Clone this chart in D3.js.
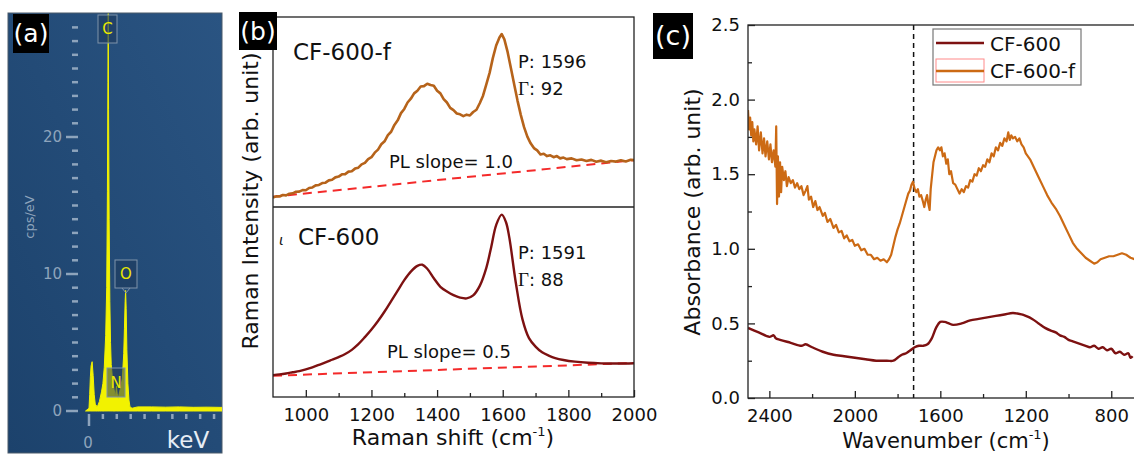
<!DOCTYPE html>
<html><head><meta charset="utf-8">
<script src="https://cdn.jsdelivr.net/npm/d3@7"></script>
<style>
html,body{margin:0;padding:0;background:#fff;}
svg{display:block;}
text{font-family:"DejaVu Sans",sans-serif;}
</style></head>
<body>
<svg id="chart" width="1134" height="454"></svg>
<script>
// ---------- DATA ----------
// (a) EDS spectrum
const edsEnergy = [-0.05,0,0.01,0.02,0.03,0.045,0.06,0.075,0.09,0.12,0.15,0.18,0.2,0.22,0.24,0.255,0.265,0.272,0.277,0.282,0.29,0.3,0.31,0.32,0.34,0.36,0.38,0.395,0.405,0.42,0.44,0.46,0.48,0.5,0.51,0.52,0.527,0.535,0.545,0.56,0.575,0.59,0.62,0.7,0.9,1.1,1.3,1.5,1.7,1.95];
const edsCps    = [0,0.2,1.2,2.5,3.3,3.6,2.6,1.2,0.5,0.3,0.7,1.4,2.0,3.2,5.5,9,16,24,29,22,14,8,5,3.4,2.2,1.6,1.0,1.8,1.3,0.9,1.4,1.8,2.4,4.2,6.0,8.0,8.8,7.5,4.5,2.0,0.8,0.3,0.2,0.3,0.3,0.28,0.3,0.27,0.28,0.26];
const edsYTicks = d3.range(0, 29, 1);
const edsYLabels = [0, 10, 20];
const edsXTicks = d3.range(0, 1.81, 0.2);
const edsPeaks = ["C", "N", "O"];

// (b) Raman spectra
const ramanShiftF = [900,910,920,930,940,950,960,970,980,990,1000,1010,1020,1030,1040,1050,1060,1070,1080,1090,1100,1110,1120,1130,1140,1150,1160,1170,1180,1190,1200,1210,1220,1230,1240,1250,1260,1270,1280,1290,1300,1310,1320,1330,1340,1350,1360,1370,1380,1390,1400,1410,1420,1430,1440,1450,1460,1470,1480,1490,1500,1510,1520,1530,1540,1550,1560,1570,1580,1590,1597,1605,1615,1625,1635,1645,1655,1665,1675,1685,1695,1705,1715,1725,1735,1745,1755,1765,1775,1785,1795,1810,1825,1840,1855,1870,1885,1900,1915,1930,1945,1960,1975,1990,2003];
const ramanIntF   = [5.0,5.6,5.5,6.3,6.1,7.0,7.2,8.0,8.1,8.9,8.8,10.0,10.3,11.4,11.6,12.6,12.8,14.0,14.3,15.6,16.0,17.2,17.3,18.6,18.8,20.2,20.7,22.4,23.2,25.2,26.2,28.6,30.2,33.0,34.6,37.8,39.6,43.2,45.6,49.4,51.6,55.0,57.0,59.8,61.2,63.4,63.6,64.9,64.2,63.8,61.2,59.8,56.8,55.0,52.2,51.0,49.2,48.8,47.8,48.6,48.2,50.0,51.2,54.6,58.6,64.5,70.6,78.5,85.0,89.2,91.0,88.2,81.5,73.0,64.5,56.0,48.5,42.0,37.0,33.5,31.0,29.8,27.6,28.0,26.8,27.2,26.2,26.8,25.6,26.0,25.2,25.6,24.6,25.0,24.2,24.8,23.8,24.4,23.6,24.2,23.9,24.6,24.0,24.9,24.6];
const ramanShift  = [900,920,940,960,980,1000,1020,1040,1060,1080,1100,1120,1140,1160,1180,1200,1220,1240,1260,1280,1300,1320,1340,1355,1370,1390,1410,1430,1450,1470,1490,1510,1530,1550,1565,1580,1597,1610,1620,1640,1660,1680,1700,1720,1740,1760,1785,1820,1860,1900,1950,2003];
const ramanInt    = [11.5,11.9,12.4,13.0,13.6,14.5,15.6,16.9,18.2,19.6,21.0,22.6,24.8,27.8,31.5,35.5,40.0,45.0,50.5,56.0,61.5,66.0,69.0,69.6,67.5,62.5,58.0,55.5,53.6,52.3,51.9,53.5,58.5,68.0,79.0,90.5,96.0,92.0,84.0,60.0,41.0,31.0,26.5,23.5,21.8,20.5,19.5,18.6,18.0,17.7,17.6,17.8];
const plShift = [900, 2003];
const plF = [5.4, 24.7];
const pl  = [11.2, 17.9];
const ramanMajorTicks = [1000,1200,1400,1600,1800,2000];
const ramanMinorTicks = [1100,1300,1500,1700,1900];

// (c) FTIR spectra
const ftirWaveF = [2500,2495,2490,2485,2480,2475,2470,2462,2455,2448,2440,2432,2425,2418,2410,2402,2395,2388,2380,2372,2368,2364,2360,2355,2350,2345,2340,2332,2325,2318,2310,2300,2290,2280,2270,2260,2250,2240,2230,2222,2215,2205,2195,2185,2175,2165,2150,2140,2128,2115,2100,2088,2075,2062,2050,2038,2025,2012,2000,1985,1970,1955,1940,1925,1910,1895,1880,1865,1850,1840,1830,1820,1810,1800,1790,1780,1770,1760,1750,1742,1735,1728,1720,1712,1705,1698,1690,1682,1675,1668,1662,1656,1650,1645,1640,1632,1625,1618,1610,1602,1595,1588,1580,1572,1565,1558,1550,1540,1530,1520,1510,1500,1490,1480,1470,1460,1450,1440,1430,1420,1410,1400,1390,1380,1370,1360,1350,1340,1330,1320,1310,1300,1290,1282,1275,1268,1260,1250,1240,1230,1220,1210,1200,1180,1160,1140,1120,1100,1080,1060,1040,1020,1000,980,960,940,920,900,880,865,850,830,810,790,770,750,730,710,690];
const ftirAbsF  = [1.93,1.80,1.88,1.76,1.85,1.72,1.80,1.70,1.82,1.66,1.78,1.64,1.74,1.62,1.72,1.60,1.70,1.58,1.66,1.55,1.82,1.30,1.62,1.35,1.58,1.38,1.55,1.46,1.52,1.42,1.48,1.44,1.46,1.41,1.44,1.40,1.42,1.36,1.39,1.42,1.33,1.35,1.28,1.32,1.26,1.28,1.22,1.24,1.18,1.20,1.14,1.16,1.11,1.12,1.07,1.09,1.05,1.06,1.02,1.03,0.99,1.00,0.96,0.96,0.93,0.94,0.92,0.93,0.91,0.93,0.96,1.02,1.08,1.13,1.17,1.22,1.27,1.32,1.37,1.39,1.43,1.45,1.40,1.38,1.40,1.35,1.36,1.32,1.28,1.33,1.36,1.30,1.26,1.40,1.47,1.58,1.62,1.66,1.68,1.66,1.68,1.62,1.64,1.57,1.60,1.50,1.52,1.44,1.43,1.40,1.37,1.40,1.38,1.42,1.41,1.46,1.45,1.50,1.49,1.54,1.52,1.56,1.55,1.60,1.58,1.64,1.62,1.68,1.66,1.71,1.69,1.74,1.72,1.78,1.73,1.76,1.74,1.75,1.72,1.74,1.70,1.68,1.64,1.60,1.54,1.48,1.42,1.36,1.31,1.27,1.22,1.16,1.10,1.04,1.00,0.97,0.94,0.92,0.90,0.91,0.93,0.94,0.95,0.95,0.96,0.97,0.96,0.94,0.93];
const ftirWave  = [2500,2450,2400,2380,2370,2350,2300,2250,2230,2200,2150,2100,2050,2000,1950,1900,1850,1820,1800,1780,1760,1740,1720,1700,1680,1660,1640,1620,1600,1580,1560,1540,1500,1460,1420,1380,1340,1300,1260,1220,1200,1170,1140,1110,1080,1060,1040,1020,1000,980,960,940,920,900,880,860,840,820,800,780,760,740,720,710,700];
const ftirAbs   = [0.47,0.44,0.41,0.42,0.40,0.39,0.37,0.35,0.36,0.34,0.31,0.29,0.28,0.27,0.26,0.25,0.25,0.25,0.27,0.29,0.30,0.32,0.34,0.35,0.35,0.36,0.40,0.47,0.51,0.51,0.50,0.49,0.50,0.52,0.53,0.54,0.55,0.56,0.57,0.56,0.55,0.53,0.50,0.47,0.45,0.44,0.42,0.41,0.39,0.38,0.37,0.36,0.35,0.34,0.35,0.33,0.34,0.32,0.33,0.30,0.31,0.29,0.30,0.27,0.28];
const ftirMarker = [1725];
const ftirMajorX = [2400,2000,1600,1200,800];
const ftirMinorX = [2200,1800,1400,1000];
const ftirMajorY = [0,0.5,1.0,1.5,2.0,2.5];
const ftirMinorY = [0.25,0.75,1.25,1.75,2.25];
const seriesNames = ["CF-600", "CF-600-f"];

// ---------- COLOURS ----------
const cDark = "#7d1111", cOrangeB = "#b6631a", cOrangeC = "#cc6a14", cRed = "#f42a2a";

const svg = d3.select("#chart");
const defs = svg.append("defs");

// ================= (a) EDS =================
const grad = defs.append("linearGradient").attr("id","edsbg").attr("x1","0").attr("y1","1").attr("x2","1").attr("y2","0");
grad.append("stop").attr("offset","0%").attr("stop-color","#1c426c");
grad.append("stop").attr("offset","100%").attr("stop-color","#2a5482");
defs.append("clipPath").attr("id","clipA").append("rect").attr("x",8).attr("y",13).attr("width",214).attr("height",440);

const gA = svg.append("g");
gA.append("rect").attr("x",8).attr("y",13).attr("width",214).attr("height",440)
  .attr("fill","url(#edsbg)").attr("stroke","#4a5a6a").attr("stroke-width",1);

const xA = d3.scaleLinear().domain([0, 1.9]).range([89, 221]);
const yA = d3.scaleLinear().domain([0, 29]).range([411, 13.7]);
const axisCol = "#8ea4bc";

gA.selectAll(".ya").data(edsYTicks).join("line")
  .attr("x1", d => edsYLabels.includes(d) ? 66 : 72).attr("x2", 78)
  .attr("y1", d => yA(d)).attr("y2", d => yA(d))
  .attr("stroke", axisCol).attr("stroke-width", 2.5);
gA.selectAll(".yl").data(edsYLabels).join("text")
  .attr("x", 62).attr("y", d => yA(d)).attr("dy","0.35em").attr("text-anchor","end")
  .attr("fill", axisCol).attr("font-size", 15).text(d => d);
gA.selectAll(".xa").data(edsXTicks).join("line")
  .attr("x1", d => xA(d)).attr("x2", d => xA(d))
  .attr("y1", 414).attr("y2", (d,i) => i === 0 ? 426 : 419)
  .attr("stroke", axisCol).attr("stroke-width", 2.5);
gA.append("text").attr("x", xA(0)-1).attr("y", 448).attr("text-anchor","middle")
  .attr("fill", axisCol).attr("font-size", 15).text("0");
gA.append("text").attr("x", 188).attr("y", 448).attr("text-anchor","middle")
  .attr("fill", "#e6edf5").attr("font-size", 23).text("keV");
gA.append("text").attr("transform","translate(34,217) rotate(-90)").attr("text-anchor","middle")
  .attr("fill", axisCol).attr("font-size", 13).text("cps/eV");

const areaA = d3.area().x((d,i) => xA(edsEnergy[i])).y0(yA(0)).y1(d => yA(d));
gA.append("path").datum(edsCps).attr("clip-path","url(#clipA)")
  .attr("d", areaA).attr("fill", "#f2f200").attr("stroke","#f2f200").attr("stroke-width",1);

const labBoxes = [
  {x:98, y:15, w:19, h:28},
  {x:107, y:368, w:18, h:29},
  {x:115, y:260, w:22, h:28}
];
edsPeaks.forEach((p,i) => {
  const b = labBoxes[i];
  gA.append("rect").attr("x",b.x).attr("y",b.y).attr("width",b.w).attr("height",b.h)
    .attr("fill", i===1 ? "rgba(40,62,90,0.55)" : "rgba(30,60,95,0.65)")
    .attr("stroke","#7f93aa").attr("stroke-width",1);
  gA.append("text").attr("x", b.x + b.w/2).attr("y", b.y + b.h/2).attr("dy","0.36em")
    .attr("text-anchor","middle").attr("fill","#e8e800").attr("font-size",15).text(p);
});
gA.append("path").attr("d","M122,288 L126,293 L130,288").attr("fill","none").attr("stroke","#7f93aa");

gA.append("rect").attr("x",13).attr("y",14).attr("width",36).attr("height",39).attr("fill","#000");
gA.append("text").attr("x",31).attr("y",42).attr("text-anchor","middle").attr("fill","#fff").attr("font-size",25).text("(a)");

// ================= (b) Raman =================
const gB = svg.append("g");
const xB = d3.scaleLinear().domain([900, 2000]).range([273, 634]);
const yBt = d3.scaleLinear().domain([0, 100]).range([207, 17]);
const yBb = d3.scaleLinear().domain([0, 100]).range([397, 207]);
defs.append("clipPath").attr("id","clipBt").append("rect").attr("x",273).attr("y",17).attr("width",361).attr("height",190);
defs.append("clipPath").attr("id","clipBb").append("rect").attr("x",273).attr("y",207).attr("width",361).attr("height",190);

const lineBt = d3.line().x((d,i) => xB(ramanShiftF[i])).y(d => yBt(d));
const lineBb = d3.line().x((d,i) => xB(ramanShift[i])).y(d => yBb(d)).curve(d3.curveCatmullRom);
const plLineT = d3.line().x((d,i) => xB(plShift[i])).y(d => yBt(d));
const plLineB = d3.line().x((d,i) => xB(plShift[i])).y(d => yBb(d));

gB.append("path").datum(plF).attr("clip-path","url(#clipBt)").attr("d", plLineT)
  .attr("fill","none").attr("stroke",cRed).attr("stroke-width",2).attr("stroke-dasharray","9,6");
gB.append("path").datum(pl).attr("clip-path","url(#clipBb)").attr("d", plLineB)
  .attr("fill","none").attr("stroke",cRed).attr("stroke-width",2).attr("stroke-dasharray","9,6");
gB.append("path").datum(ramanIntF).attr("clip-path","url(#clipBt)").attr("d", lineBt)
  .attr("fill","none").attr("stroke",cOrangeB).attr("stroke-width",2.6).attr("stroke-linejoin","round");
gB.append("path").datum(ramanInt).attr("clip-path","url(#clipBb)").attr("d", lineBb)
  .attr("fill","none").attr("stroke",cDark).attr("stroke-width",2.4).attr("stroke-linejoin","round");

gB.append("rect").attr("x",273).attr("y",17).attr("width",361).attr("height",380)
  .attr("fill","none").attr("stroke","#222").attr("stroke-width",1.3);
gB.append("line").attr("x1",273).attr("x2",634).attr("y1",207).attr("y2",207).attr("stroke","#222").attr("stroke-width",1.3);

const axB = gB.append("g").attr("transform","translate(0,397)")
  .call(d3.axisBottom(xB).tickValues(ramanMajorTicks).tickSize(-7).tickPadding(11).tickFormat(d3.format("d")));
const axBm = gB.append("g").attr("transform","translate(0,397)")
  .call(d3.axisBottom(xB).tickValues(ramanMinorTicks).tickSize(-4).tickFormat(""));
[axB, axBm].forEach(a => { a.select(".domain").remove(); a.selectAll("line").attr("stroke","#222").attr("stroke-width",1.3); });
axB.selectAll("text").attr("font-size",18).attr("fill","#111").attr("font-family","DejaVu Sans");

const tB = gB.append("text").attr("x",453).attr("y",445).attr("text-anchor","middle").attr("font-size",22).attr("fill","#111");
tB.append("tspan").text("Raman shift (cm");
tB.append("tspan").attr("font-size",13).attr("dy",-9).text("-1");
tB.append("tspan").attr("dy",9).text(")");
gB.append("text").attr("transform","translate(258,201) rotate(-90)").attr("text-anchor","middle")
  .attr("font-size",22).attr("fill","#111").text("Raman Intensity (arb. unit)");

gB.append("text").attr("x",293).attr("y",60).attr("font-size",23).attr("fill","#111").text("CF-600-f");
gB.append("text").attr("x",518).attr("y",68).attr("font-size",18).attr("fill","#111").text("P: 1596");
const g1 = gB.append("text").attr("x",518).attr("y",95).attr("font-size",18).attr("fill","#111");
g1.append("tspan").attr("font-family","Liberation Serif").attr("font-size",19).text("Γ");
g1.append("tspan").text(": 92");
gB.append("text").attr("x",389).attr("y",168).attr("font-size",18).attr("fill","#111").text("PL slope= 1.0");

gB.append("text").attr("x",279).attr("y",245).attr("font-size",14).attr("font-style","italic").attr("font-family","Liberation Serif").attr("fill","#111").text("ι");
gB.append("text").attr("x",298).attr("y",245).attr("font-size",23).attr("fill","#111").text("CF-600");
gB.append("text").attr("x",518).attr("y",259).attr("font-size",18).attr("fill","#111").text("P: 1591");
const g2 = gB.append("text").attr("x",518).attr("y",286).attr("font-size",18).attr("fill","#111");
g2.append("tspan").attr("font-family","Liberation Serif").attr("font-size",19).text("Γ");
g2.append("tspan").text(": 88");
gB.append("text").attr("x",387).attr("y",358).attr("font-size",18).attr("fill","#111").text("PL slope= 0.5");

gB.append("rect").attr("x",239).attr("y",12).attr("width",38).attr("height",38).attr("fill","#000");
gB.append("text").attr("x",258).attr("y",40).attr("text-anchor","middle").attr("fill","#fff").attr("font-size",25).text("(b)");

// ================= (c) FTIR =================
const gC = svg.append("g");
const xC = d3.scaleLinear().domain([2500, 600]).range([748, 1154]);
const yC = d3.scaleLinear().domain([0, 2.5]).range([398, 25]);
defs.append("clipPath").attr("id","clipC").append("rect").attr("x",748).attr("y",25).attr("width",406).attr("height",373);

const lineF = d3.line().x((d,i) => xC(ftirWaveF[i])).y(d => yC(d));
const lineD = d3.line().x((d,i) => xC(ftirWave[i])).y(d => yC(d)).curve(d3.curveCatmullRom);

gC.selectAll(".vm").data(ftirMarker).join("line")
  .attr("x1", d => xC(d)).attr("x2", d => xC(d)).attr("y1", 25).attr("y2", 398)
  .attr("stroke","#111").attr("stroke-width",1.5).attr("stroke-dasharray","5,4");

gC.append("path").datum(ftirAbsF).attr("clip-path","url(#clipC)").attr("d", lineF)
  .attr("fill","none").attr("stroke",cOrangeC).attr("stroke-width",2.2).attr("stroke-linejoin","round");
gC.append("path").datum(ftirAbs).attr("clip-path","url(#clipC)").attr("d", lineD)
  .attr("fill","none").attr("stroke",cDark).attr("stroke-width",2.4).attr("stroke-linejoin","round");

gC.append("rect").attr("x",748).attr("y",25).attr("width",406).attr("height",373)
  .attr("fill","none").attr("stroke","#222").attr("stroke-width",1.3);

const axCy = gC.append("g").attr("transform","translate(748,0)")
  .call(d3.axisLeft(yC).tickValues(ftirMajorY).tickSize(-7).tickPadding(8).tickFormat(d3.format(".1f")));
const axCym = gC.append("g").attr("transform","translate(748,0)")
  .call(d3.axisLeft(yC).tickValues(ftirMinorY).tickSize(-4).tickFormat(""));
const axCx = gC.append("g").attr("transform","translate(0,398)")
  .call(d3.axisBottom(xC).tickValues(ftirMajorX).tickSize(-7).tickPadding(11).tickFormat(d3.format("d")));
const axCxm = gC.append("g").attr("transform","translate(0,398)")
  .call(d3.axisBottom(xC).tickValues(ftirMinorX).tickSize(-4).tickFormat(""));
[axCy, axCym, axCx, axCxm].forEach(a => { a.select(".domain").remove(); a.selectAll("line").attr("stroke","#222").attr("stroke-width",1.3); });
[axCy, axCx].forEach(a => a.selectAll("text").attr("font-size",18).attr("fill","#111").attr("font-family","DejaVu Sans"));

const tC = gC.append("text").attr("x",946).attr("y",448).attr("text-anchor","middle").attr("font-size",21).attr("fill","#111");
tC.append("tspan").text("Wavenumber (cm");
tC.append("tspan").attr("font-size",13).attr("dy",-9).text("-1");
tC.append("tspan").attr("dy",9).text(")");
gC.append("text").attr("transform","translate(700,212) rotate(-90)").attr("text-anchor","middle")
  .attr("font-size",22).attr("fill","#111").text("Absorbance (arb. unit)");

const lg = gC.append("g");
lg.append("rect").attr("x",933).attr("y",29).attr("width",148).attr("height",56).attr("fill","#fff").attr("stroke","#777").attr("stroke-width",1.2);
lg.append("line").attr("x1",936).attr("x2",984).attr("y1",43).attr("y2",43).attr("stroke",cDark).attr("stroke-width",2.5);
lg.append("rect").attr("x",936).attr("y",59).attr("width",48).attr("height",23).attr("fill","none").attr("stroke","#ff8a8a").attr("stroke-width",1);
lg.append("line").attr("x1",936).attr("x2",984).attr("y1",71).attr("y2",71).attr("stroke",cOrangeC).attr("stroke-width",2.5);
lg.append("text").attr("x",990).attr("y",51).attr("font-size",20).attr("fill","#111").text(seriesNames[0]);
lg.append("text").attr("x",990).attr("y",78).attr("font-size",20).attr("fill","#111").text(seriesNames[1]);

gC.append("rect").attr("x",653).attr("y",13).attr("width",40).attr("height",46).attr("fill","#000");
gC.append("text").attr("x",673).attr("y",45).attr("text-anchor","middle").attr("fill","#fff").attr("font-size",27).text("(c)");
</script>
</body></html>
